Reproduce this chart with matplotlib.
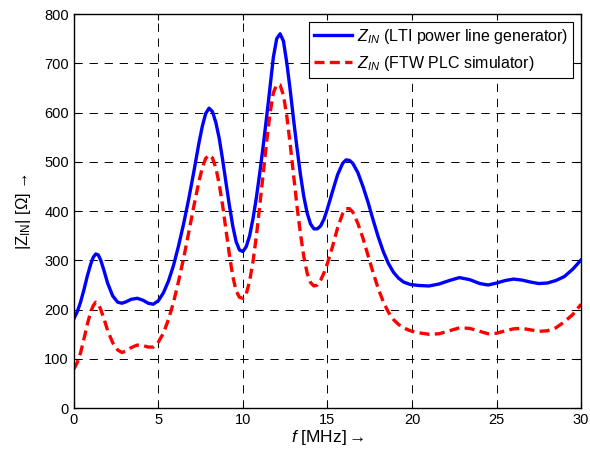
import matplotlib
matplotlib.use('Agg')
from matplotlib import pyplot as plt

plt.rcParams['font.family'] = ['Liberation Sans', 'DejaVu Sans']
plt.rcParams['mathtext.fontset'] = 'custom'
plt.rcParams['mathtext.rm'] = 'Liberation Sans'
plt.rcParams['mathtext.it'] = 'Liberation Sans:italic'

# values
f_lti = [0, 0.2, 0.4, 0.6, 0.8, 1.0, 1.15, 1.3, 1.45, 1.6, 1.8, 2.0, 2.3,
         2.6, 2.85, 3.1, 3.4, 3.75, 4.1, 4.4, 4.7, 5.0, 5.3, 5.6, 5.9, 6.2,
         6.5, 6.8, 7.1, 7.4, 7.6, 7.8, 8.0, 8.2, 8.4, 8.6, 8.8, 9.0, 9.2,
         9.4, 9.6, 9.8, 10.0, 10.2, 10.4, 10.6, 10.8, 11.0, 11.2, 11.4, 11.6,
         11.8, 12.0, 12.2, 12.4, 12.6, 12.8, 13.0, 13.2, 13.4, 13.6, 13.8,
         14.0, 14.2, 14.4, 14.6, 14.8, 15.0, 15.3, 15.6, 15.9, 16.1, 16.3,
         16.5, 16.8, 17.1, 17.4, 17.7, 18.0, 18.3, 18.6, 18.9, 19.2, 19.5,
         19.9, 20.4, 21.0, 21.6, 22.2, 22.8, 23.4, 24.0, 24.5, 25.0, 25.5,
         26.0, 26.5, 27.0, 27.5, 28.0, 28.5, 29.0, 29.5, 30.0]
z_lti = [181, 195, 215, 240, 268, 292, 306, 313, 311, 300, 278, 254, 228,
         215, 213, 216, 221, 223, 219, 213, 211, 218, 234, 258, 290, 330,
         375, 425, 480, 538, 572, 598, 609, 602, 580, 548, 505, 458, 412,
         370, 338, 321, 318, 328, 350, 385, 428, 478, 532, 590, 650,
         712, 750, 760, 745, 700, 645, 585, 528, 475, 430, 396,
         374, 364, 364, 370, 384, 405, 440, 474, 497, 504, 503,
         497, 478, 450, 418, 382, 348, 318, 294, 276, 264, 256,
         251, 249, 248, 252, 259, 265, 261, 253, 250, 254, 259,
         262, 260, 256, 253, 254, 259, 267, 282, 301]

f_ftw = [0, 0.2, 0.4, 0.6, 0.8, 1.0, 1.15, 1.3, 1.45, 1.6, 1.8, 2.0, 2.3,
         2.6, 2.85, 3.1, 3.4, 3.75, 4.1, 4.4, 4.7, 5.0, 5.3, 5.6, 5.9, 6.2,
         6.5, 6.8, 7.1, 7.4, 7.6, 7.8, 8.0, 8.2, 8.4, 8.6, 8.8, 9.0, 9.2,
         9.4, 9.6, 9.8, 10.0, 10.2, 10.4, 10.6, 10.8, 11.0, 11.2, 11.4, 11.6,
         11.8, 12.0, 12.2, 12.4, 12.6, 12.8, 13.0, 13.2, 13.4, 13.6, 13.8,
         14.0, 14.2, 14.4, 14.6, 14.8, 15.0, 15.3, 15.6, 15.9, 16.1, 16.3,
         16.5, 16.8, 17.1, 17.4, 17.7, 18.0, 18.3, 18.6, 18.9, 19.2, 19.5,
         19.9, 20.4, 21.0, 21.6, 22.2, 22.8, 23.4, 24.0, 24.5, 25.0, 25.5,
         26.0, 26.5, 27.0, 27.5, 28.0, 28.5, 29.0, 29.5, 30.0]
z_ftw = [79, 92, 112, 140, 170, 195, 208, 215, 212, 200, 180, 158, 133,
         118, 113, 116, 123, 128, 127, 124, 124, 134, 152, 180, 215, 258,
         305, 357, 410, 460, 488, 507, 514, 508, 488, 455, 412, 362, 312,
         268, 238, 225, 223, 232, 258, 298, 350, 412, 475, 540, 597,
         640, 657, 656, 635, 592, 535, 472, 410, 355, 308, 274,
         255, 248, 250, 260, 275, 294, 328, 366, 395, 405, 405,
         398, 375, 345, 310, 275, 243, 216, 195, 180, 170, 163,
         157, 153, 150, 151, 157, 163, 162, 156, 151, 152, 157,
         161, 162, 159, 156, 157, 163, 175, 190, 211]

labels = [r'$Z_{IN}$ (LTI power line generator)',
          r'$Z_{IN}$ (FTW PLC simulator)']

fig = plt.figure(figsize=(5.9, 4.54), dpi=100)
ax = fig.add_axes([0.125, 0.101, 0.86, 0.868])

ax.plot(f_lti, z_lti, color='#0000ff', lw=2.4, label=labels[0])
ax.plot(f_ftw, z_ftw, color='#ff0000', lw=2.4, ls=(0, (3, 1.6)), label=labels[1])

ax.set_xlim(0, 30)
ax.set_ylim(0, 800)
ax.set_xticks(range(0, 31, 5))
ax.set_yticks(range(0, 801, 100))
ax.grid(True, color='black', ls=(0, (8.5, 7)), lw=0.7)
ax.tick_params(direction='in', top=True, right=True, labelsize=10.5, length=4)
for s in ax.spines.values():
    s.set_linewidth(1.0)

ax.set_xlabel(r'$f$ [MHz]$\rightarrow$', fontsize=12.5, labelpad=1)
ax.set_ylabel(r'|Z$_{\mathrm{IN}}$| [$\Omega$] →', fontsize=12, labelpad=8)

leg = ax.legend(loc='upper right', fontsize=11.5, fancybox=False, framealpha=1,
                edgecolor='black', borderaxespad=0.5, handlelength=2.4,
                handletextpad=0.3, borderpad=0.3, labelspacing=0.5)
leg.get_frame().set_linewidth(0.8)

fig.savefig('out.png', dpi=100)
